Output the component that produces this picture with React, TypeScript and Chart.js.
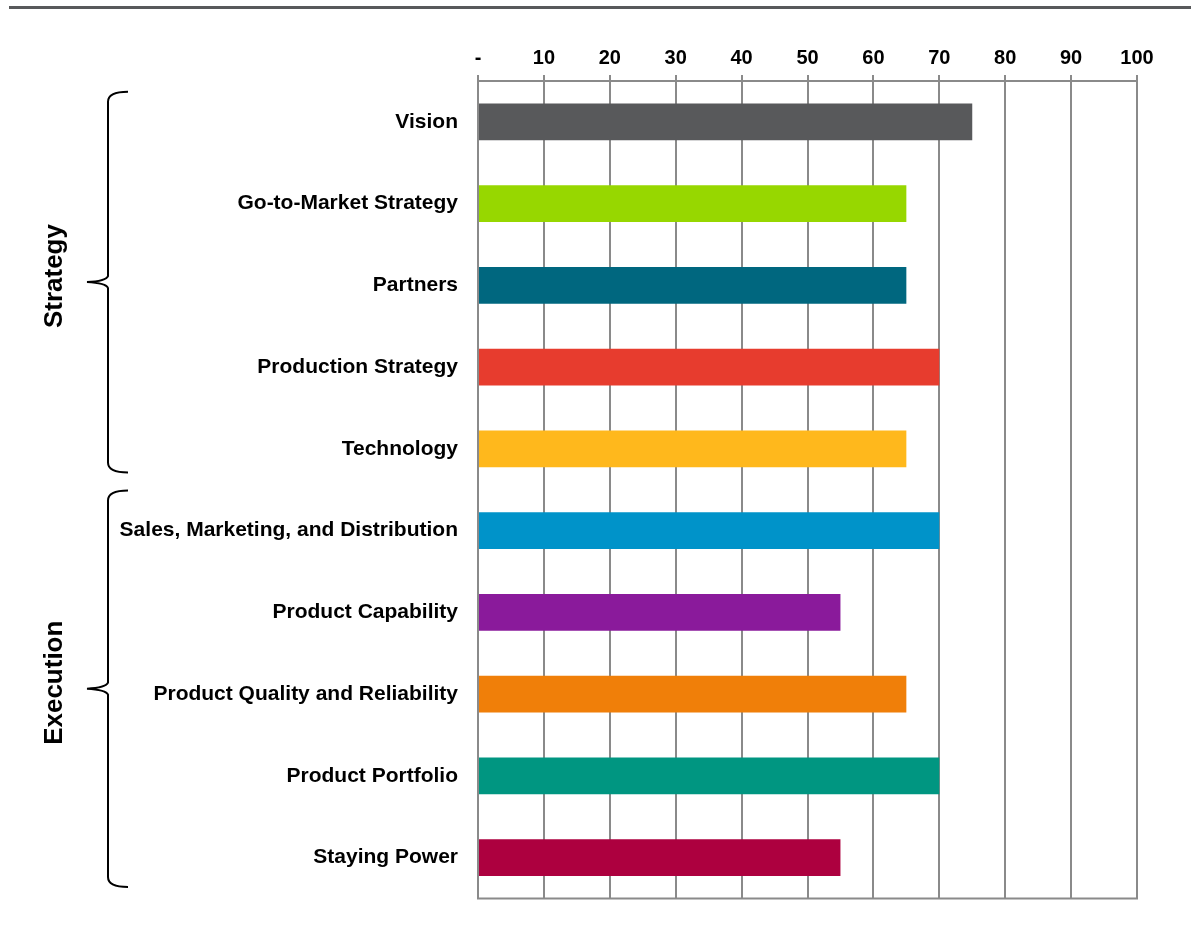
import React, { useEffect, useRef } from "react";
import { Chart, registerables } from "chart.js";

Chart.register(...registerables);

const categories = [
  "Vision",
  "Go-to-Market Strategy",
  "Partners",
  "Production Strategy",
  "Technology",
  "Sales, Marketing, and Distribution",
  "Product Capability",
  "Product Quality and Reliability",
  "Product Portfolio",
  "Staying Power",
];

const scores = [75, 65, 65, 70, 65, 70, 55, 65, 70, 55];

const barColors = [
  "#58595B",
  "#97D700",
  "#00677F",
  "#E73C2E",
  "#FFB81C",
  "#0093C9",
  "#8A1A9B",
  "#F07F09",
  "#009681",
  "#AD003F",
];

const xTicks = [0, 10, 20, 30, 40, 50, 60, 70, 80, 90, 100];

const groupNames = ["Strategy", "Execution"];
const groupFirst = [0, 5];
const groupLast = [4, 9];

const FONT = "'Liberation Sans', Arial, Helvetica, sans-serif";
const GRID = "#8a8a8a";

const decorPlugin = {
  id: "decor",
  afterDraw(chart: any) {
    const ctx = chart.ctx;
    const area = chart.chartArea;
    const y = chart.scales.y;
    ctx.save();
    // top rule
    ctx.fillStyle = "#58595B";
    ctx.fillRect(9, 6, chart.width - 9, 3);
    // bottom axis line
    ctx.strokeStyle = GRID;
    ctx.lineWidth = 2;
    ctx.beginPath();
    ctx.moveTo(area.left - 1, area.bottom);
    ctx.lineTo(area.right + 1, area.bottom);
    ctx.stroke();

    const band = y.getPixelForValue(1) - y.getPixelForValue(0);
    const topOff = [0.37, 0.49];
    const botOff = [0.29, 0.36];
    for (let g = 0; g < groupNames.length; g++) {
      const top = y.getPixelForValue(groupFirst[g]) - band * topOff[g];
      const bot = y.getPixelForValue(groupLast[g]) + band * botOff[g];
      const mid = (top + bot) / 2;
      const xv = 108;
      const xe = 128;
      const xt = 87;
      const r = 10;
      ctx.strokeStyle = "#000";
      ctx.lineWidth = 2;
      ctx.beginPath();
      ctx.moveTo(xe, top);
      ctx.quadraticCurveTo(xv, top, xv, top + r);
      ctx.lineTo(xv, mid - 6);
      ctx.quadraticCurveTo(xv - 2, mid - 1, xt, mid);
      ctx.quadraticCurveTo(xv - 2, mid + 1, xv, mid + 6);
      ctx.lineTo(xv, bot - r);
      ctx.quadraticCurveTo(xv, bot, xe, bot);
      ctx.stroke();

      ctx.save();
      ctx.translate(55, mid - 6);
      ctx.rotate(-Math.PI / 2);
      ctx.fillStyle = "#000";
      ctx.font = `bold 26px ${FONT}`;
      ctx.textAlign = "center";
      ctx.textBaseline = "middle";
      ctx.fillText(groupNames[g], 0, 0);
      ctx.restore();
    }
    ctx.restore();
  },
};

export default function App() {
  const ref = useRef<HTMLCanvasElement | null>(null);
  useEffect(() => {
    document.body.style.margin = "0";
    if (!ref.current) return;
    const chart = new Chart(ref.current, {
      type: "bar",
      data: {
        labels: categories,
        datasets: [
          {
            data: scores,
            backgroundColor: barColors,
            borderWidth: 0,
            barPercentage: 0.45,
            categoryPercentage: 1,
          },
        ],
      },
      options: {
        indexAxis: "y",
        animation: false,
        responsive: true,
        maintainAspectRatio: false,
        layout: { padding: { top: 0, right: 54, bottom: 31, left: 0 } },
        plugins: {
          legend: { display: false },
          tooltip: { enabled: false },
        },
        scales: {
          x: {
            position: "top",
            min: 0,
            max: 100,
            afterFit: (s: any) => {
              s.height = 81;
            },
            afterBuildTicks: (s: any) => {
              s.ticks = xTicks.map((v) => ({ value: v }));
            },
            ticks: {
              callback: (v: any) => (Number(v) === 0 ? "-" : String(v)),
              color: "#000",
              font: { family: FONT, size: 20, weight: "bold" },
              padding: 5,
              maxRotation: 0,
            },
            grid: {
              color: GRID,
              lineWidth: 2,
              tickLength: 6,
              drawTicks: true,
            },
            border: { display: true, color: GRID, width: 2 },
          },
          y: {
            afterFit: (s: any) => {
              s.width = 478;
            },
            ticks: {
              color: "#000",
              font: { family: FONT, size: 21, weight: "bold" },
              padding: 20,
              autoSkip: false,
            },
            grid: { display: false, drawTicks: false },
            border: { display: true, color: GRID, width: 2 },
          },
        },
      },
      plugins: [decorPlugin],
    });
    return () => chart.destroy();
  }, []);
  return (
    <div style={{ width: 1191, height: 931, position: "relative", background: "#fff" }}>
      <canvas ref={ref} />
    </div>
  );
}
